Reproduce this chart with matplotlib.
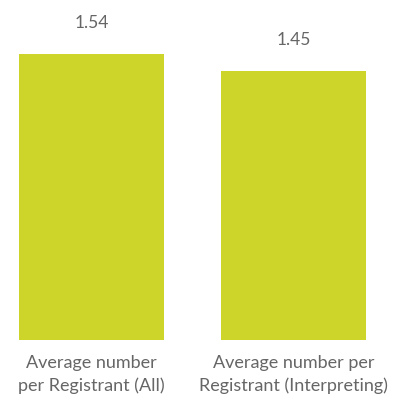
import matplotlib
matplotlib.use("Agg")
import matplotlib.pyplot as plt

categories = ["Average number\nper Registrant (All)", "Average number per\nRegistrant (Interpreting)"]
values = [1.54, 1.45]
value_labels = ["1.54", "1.45"]

bar_color = "#CDD42A"
text_color = "#666666"
px = 1.0 / 100

fig = plt.figure(figsize=(397 * px, 401 * px), dpi=100)
ax = fig.add_axes([0, 61 / 401, 1, 340 / 401])

x = [0, 1]
ax.bar(x, values, width=145 / 202, color=bar_color)
ax.set_xlim(-91.5 / 202, 1 + (397 - 293.5) / 202)
ax.set_ylim(0, 340 / 185.7)
ax.axis("off")

for xi, v, lab in zip(x, values, value_labels):
    ax.annotate(lab, (xi, v), xytext=(0, 31), textcoords="offset pixels",
                ha="center", va="center", fontsize=12.5, color=text_color,
                family="Lato")

for xi, cat in zip(x, categories):
    ax.annotate(cat, (xi, 0), xytext=(0, -15), textcoords="offset pixels",
                ha="center", va="top", fontsize=13, color=text_color,
                family="Lato", linespacing=1.45)

fig.savefig("out.png", dpi=100)
